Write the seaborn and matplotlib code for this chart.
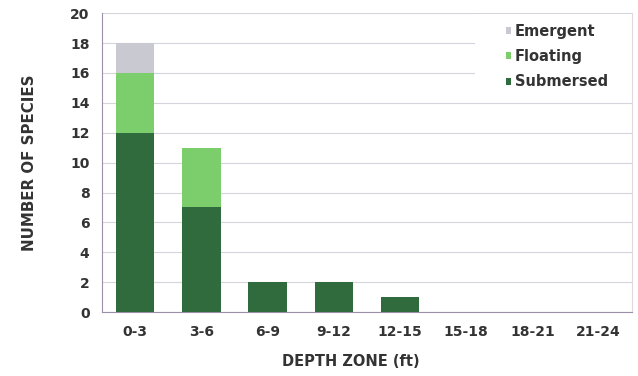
import matplotlib
matplotlib.use("Agg")
import matplotlib.pyplot as plt
from matplotlib.patches import Rectangle
import seaborn as sns
import pandas as pd
import numpy as np

zones = ["0-3", "3-6", "6-9", "9-12", "12-15", "15-18", "18-21", "21-24"]
submersed = [12, 7, 2, 2, 1, 0, 0, 0]
floating = [4, 4, 0, 0, 0, 0, 0, 0]
emergent = [2, 0, 0, 0, 0, 0, 0, 0]

colors = {"Emergent": "#c9c9d1", "Floating": "#7ccd6b", "Submersed": "#2f6b3d"}

sns.set_style("white")
plt.rcParams["font.family"] = ["DejaVu Sans"]

df = pd.DataFrame({"zone": zones, "Submersed": submersed,
                   "Floating": floating, "Emergent": emergent})
df["sub_float"] = df["Submersed"] + df["Floating"]
df["total"] = df["sub_float"] + df["Emergent"]

fig = plt.figure(figsize=(6.38, 3.76), dpi=100)
ax = fig.add_axes([0.16, 0.17, 0.83, 0.795])

# stacked bars drawn as overlapping cumulative layers
layers = [("total", "Emergent"), ("sub_float", "Floating"), ("Submersed", "Submersed")]
for col, name in layers:
    sns.barplot(data=df, x="zone", y=col, color=colors[name], width=0.58,
                saturation=1, label=name, ax=ax, zorder=3, linewidth=0)

ax.set_ylim(0, 20)
ax.set_yticks(np.arange(0, 21, 2))
ax.set_xlim(-0.5, len(zones) - 0.5)
ax.yaxis.grid(True, color="#d4d4dc", linewidth=0.8, zorder=0)
ax.set_axisbelow(True)

# white legend panel hiding the upper gridlines
ax.add_patch(Rectangle((0.704, 0.728), 0.296, 0.27, transform=ax.transAxes,
                       facecolor="white", edgecolor="none", zorder=1))

ax.spines["top"].set_visible(False)
ax.spines["right"].set_color("#e3d8e0")
ax.spines["left"].set_color("#9a90a8")
ax.spines["bottom"].set_color("#9a90a8")

ax.tick_params(axis="both", labelsize=10, colors="#333333", length=3, pad=6)
for lbl in ax.get_xticklabels() + ax.get_yticklabels():
    lbl.set_fontweight("bold")
    lbl.set_color("#333333")

ax.set_xlabel("DEPTH ZONE (ft)", fontsize=10.5, fontweight="bold", color="#333333")
ax.xaxis.set_label_coords(0.47, -0.14)
ax.set_ylabel("NUMBER OF SPECIES", fontsize=10.8, fontweight="bold", color="#333333")
ax.yaxis.set_label_coords(-0.123, 0.5)

leg = ax.legend(loc="upper right", frameon=False, fontsize=10.5, handlelength=0.35,
                handleheight=0.35, handletextpad=0.25, labelspacing=0.7,
                bbox_to_anchor=(0.98, 1.008))
for t in leg.get_texts():
    t.set_fontweight("bold")
    t.set_color("#333333")

fig.savefig("out.png", dpi=100)
